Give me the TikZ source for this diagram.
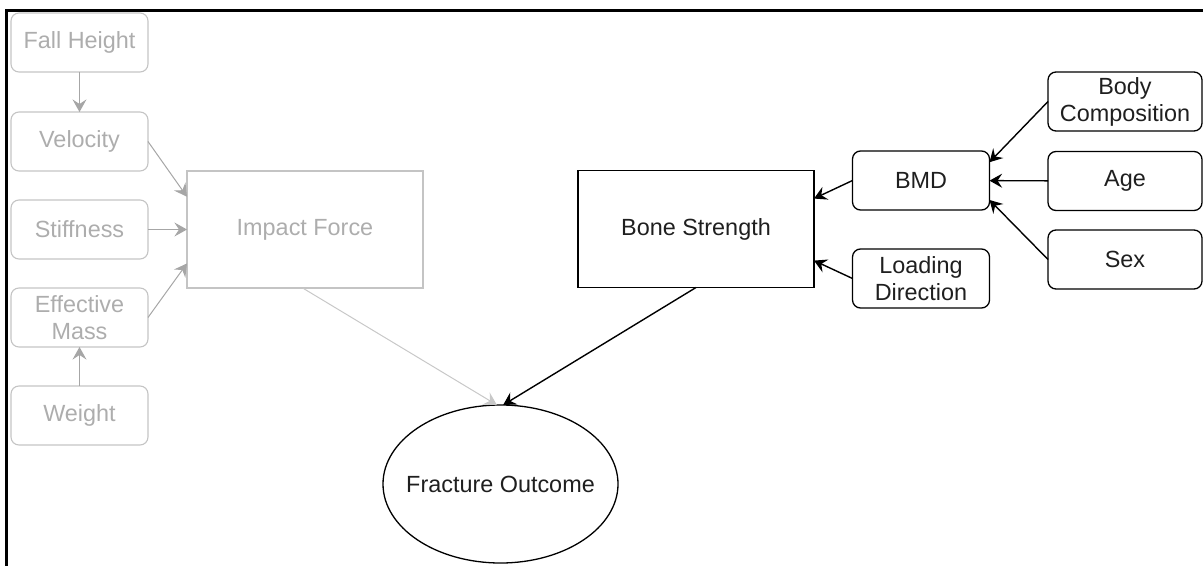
\documentclass[tikz,border=0pt]{standalone}
\usepackage{fontspec}
\setmainfont{Liberation Sans}
\usetikzlibrary{arrows.meta,calc,shapes.geometric}
\definecolor{fadeline}{HTML}{C4C4C4}
\definecolor{fadetext}{HTML}{ADADAD}
\definecolor{fadearrow}{HTML}{A6A6A6}
\definecolor{palearrow}{HTML}{C8C8C8}
\begin{document}
\begin{tikzpicture}[x=0.5pt,y=-0.5pt,
  every node/.style={font=\fontsize{11.7}{13.5}\selectfont, align=center,
    inner sep=0pt, outer sep=0pt},
  faded/.style={draw=fadeline, text=fadetext, line width=0.55pt},
  strong/.style={draw=black, text=black!88, line width=0.65pt},
  smallbox/.style={rectangle, rounded corners=4pt, minimum width=68.5pt, minimum height=29.5pt},
  widebox/.style={rectangle, rounded corners=4pt, minimum width=77pt, minimum height=29.5pt},
  bigbox/.style={rectangle, minimum width=118pt, minimum height=58.5pt},
  tip/.style={-{Stealth[length=6.3pt,width=7pt,inset=2.3pt]}},
  garrow/.style={tip, draw=fadearrow, line width=0.5pt},
  parrow/.style={tip, draw=palearrow, line width=0.5pt},
  barrow/.style={tip, draw=black, line width=0.7pt}
]
\useasboundingbox (0,0) rectangle (1203,566);

% frame
\draw[line width=1.1pt] (6.5,566) -- (6.5,10.5) -- (1203,10.5);

% impact side
\node[faded, smallbox] (fall)   at (79.5,42.5)  {Fall Height};
\node[faded, smallbox] (vel)    at (79.5,141.5) {Velocity};
\node[faded, smallbox] (stiff)  at (79.5,229.5) {Stiffness};
\node[faded, smallbox] (effm)   at (79.5,317.5) {Effective\\Mass};
\node[faded, smallbox] (weight) at (79.5,415.5) {Weight};
\node[faded, bigbox]   (imp)    at (305,229.5)  {Impact Force};

% bone side
\node[strong, bigbox]   (bone) at (696,229)    {Bone Strength};
\node[strong, smallbox] (bmd)  at (921,180.5)  {BMD};
\node[strong, smallbox] (load) at (921,278.5)  {Loading\\Direction};
\node[strong, widebox]  (body) at (1125,101.5) {Body\\Composition};
\node[strong, widebox]  (age)  at (1125,181)   {Age};
\node[strong, widebox]  (sex)  at (1125,259.5) {Sex};

% outcome (zero-width text box so the ellipse keeps its own size)
\node[strong, ellipse, minimum width=117.5pt, minimum height=79pt] (frac) at (500.5,484)
  {\makebox[0pt]{Fracture Outcome}};

% connectors, impact side
\draw[garrow] (fall) -- (vel);
\draw[garrow] (vel.east) -- ($(imp.north west)!0.22!(imp.south west)$);
\draw[garrow] (stiff) -- (imp);
\draw[garrow] (effm.east) -- ($(imp.north west)!0.79!(imp.south west)$);
\draw[garrow] (weight) -- (effm);
\draw[parrow] ($(imp.south west)!0.49!(imp.south east)$) -- ([xshift=-1.8pt]frac.north);

% connectors, bone side
\draw[barrow] (bmd.west) -- ($(bone.north east)!0.24!(bone.south east)$);
\draw[barrow] (load.west) -- ($(bone.north east)!0.77!(bone.south east)$);
\draw[barrow] (body.west) -- ($(bmd.north east)!0.19!(bmd.south east)$);
\draw[barrow] (age) -- (bmd);
\draw[barrow] (sex.west) -- ($(bmd.north east)!0.83!(bmd.south east)$);
\draw[barrow] (bone.south) -- ([xshift=1.3pt]frac.north);
\end{tikzpicture}
\end{document}
